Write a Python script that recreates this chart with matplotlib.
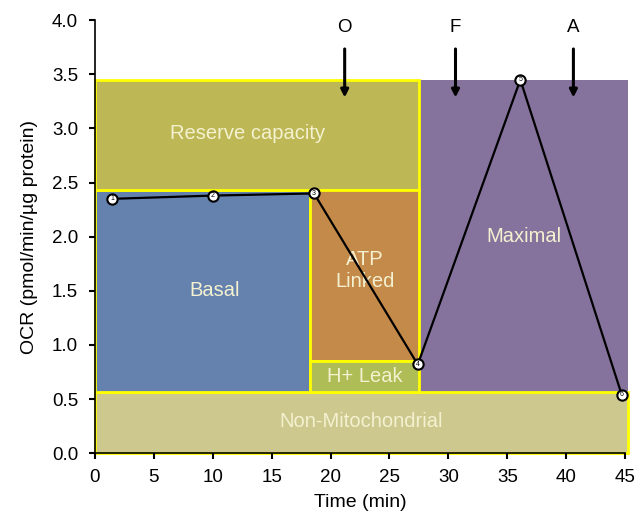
import numpy as np
import matplotlib.pyplot as plt

plt.rcParams['font.family'] = ['Liberation Sans', 'DejaVu Sans']

# regions of the OCR profile: (label, x start, x end, y bottom, y top)
region_names = ['Maximal', 'Non-Mitochondrial', 'Basal', 'Reserve capacity', 'ATP\nLinked', 'H+ Leak']
region_x0 = [27.5, 0.0, 0.0, 0.0, 18.3, 18.3]
region_x1 = [45.2, 45.2, 18.3, 27.5, 27.5, 27.5]
region_y0 = [0.57, 0.0, 0.57, 2.43, 0.85, 0.57]
region_y1 = [3.45, 0.57, 2.43, 3.45, 2.43, 0.85]
region_colors = ['#85739E', '#CCC88E', '#6581AE', '#BDB855', '#C48A4A', '#AEBD55']

# measured OCR points
time = [1.5, 10.0, 18.6, 27.4, 36.1, 44.7]
ocr = [2.35, 2.38, 2.40, 0.82, 3.45, 0.54]

# injections
inj_labels = ['O', 'F', 'A']
inj_time = [21.2, 30.6, 40.6]

fig = plt.figure(figsize=(6.4, 5.18), dpi=100)
ax = fig.add_axes([0.148, 0.125, 0.829, 0.836])

for i in range(len(region_names)):
    ec = 'none' if region_names[i] == 'Maximal' else '#FFFF00'
    ax.bar(region_x0[i], region_y1[i] - region_y0[i], width=region_x1[i] - region_x0[i],
           bottom=region_y0[i], align='edge', color=region_colors[i], edgecolor=ec,
           linewidth=2, zorder=1, clip_on=False)

# labels inside the boxes
txt = dict(ha='center', va='center', fontsize=14.5, color='#F4F1D0', zorder=3)
ax.text(13.0, 2.95, 'Reserve capacity', **txt)
ax.text(10.2, 1.5, 'Basal', **txt)
ax.text(22.9, 1.69, 'ATP\nLinked', **txt)
ax.text(22.9, 0.71, 'H+ Leak', **txt)
ax.text(36.4, 2.0, 'Maximal', **txt)
ax.text(22.6, 0.29, 'Non-Mitochondrial', **txt)

ax.plot(time, ocr, color='black', linewidth=1.6, zorder=4, clip_on=False)
ax.scatter(time, ocr, s=55, facecolor='white', edgecolor='black', linewidth=1.5, zorder=5, clip_on=False)
for i in range(len(time)):
    ax.text(time[i], ocr[i], str(i + 1), fontsize=5, ha='center', va='center', zorder=6)

for lab, t in zip(inj_labels, inj_time):
    ax.annotate('', xy=(t, 3.26), xytext=(t, 3.76),
                arrowprops=dict(arrowstyle='-|>', color='black', lw=2.2, mutation_scale=11), zorder=6)
    ax.text(t, 3.93, lab, fontsize=13.5, ha='center', va='center')

ax.set_xlim(0, 45)
ax.set_ylim(0, 4.0)
ax.set_xticks(np.arange(0, 46, 5))
ax.set_yticks(np.arange(0, 4.01, 0.5))
ax.set_yticklabels(['%.1f' % v for v in np.arange(0, 4.01, 0.5)])
ax.tick_params(direction='out', length=4, width=1.5, labelsize=13.5)
ax.tick_params(axis='y', pad=8)
ax.tick_params(axis='x', pad=7)
ax.spines['top'].set_visible(False)
ax.spines['right'].set_visible(False)
ax.spines['left'].set_linewidth(1.2)
ax.spines['bottom'].set_linewidth(1.2)
ax.set_xlabel('Time (min)', fontsize=14, labelpad=6)
ax.set_ylabel('OCR (pmol/min/µg protein)', fontsize=14, labelpad=10)

plt.savefig('out.png', dpi=100)
